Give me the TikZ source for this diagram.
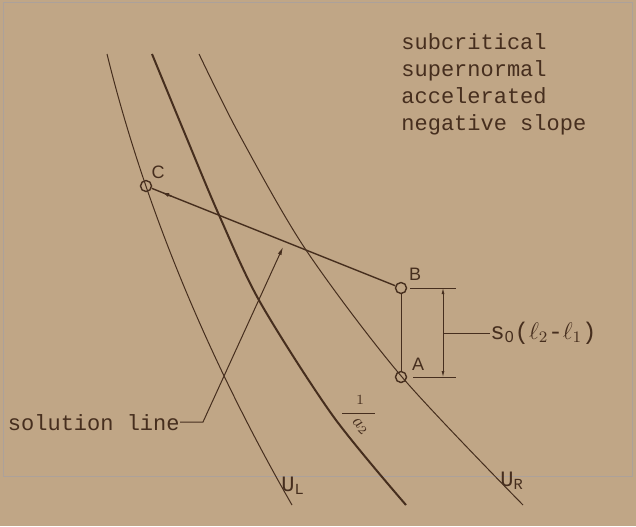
\documentclass[tikz,border=0pt]{standalone}
\usepackage{fontspec}
\setmonofont{Liberation Mono}
\setsansfont{Liberation Sans}
\usetikzlibrary{calc,arrows.meta}
\definecolor{paper}{RGB}{192,166,134}
\definecolor{ink}{RGB}{70,46,30}

\begin{document}
\begin{tikzpicture}[x=0.5pt,y=-0.5pt,ink,
  ring/.style={draw, circle, inner sep=0pt, minimum size=5.5pt, line width=0.7pt},
  lbl/.style={font=\sffamily\fontsize{9}{10}\selectfont, inner sep=0pt},
  tt/.style={font=\ttfamily\fontsize{11}{13.5}\selectfont, inner sep=0pt},
  curve/.style={line width=0.5pt},
  tip/.style={-{Latex[length=4pt,width=2pt]}}]
\fill[paper] (0,0) rectangle (636,526);
\useasboundingbox (0,0) rectangle (636,526);
\draw[ink!45, line width=0.4pt] (3,2) rectangle (632,476);

% the three curves
\draw[curve] (107,54) .. controls (144,204) and (206,355) .. (292,505);
\draw[line width=1pt] plot[smooth] coordinates {(152,54) (185,134) (219,215) (260,302) (333,416) (406,505)};
\draw[curve] plot[smooth] coordinates {(199,54) (239,134) (306,250) (402,377) (523,505)};

\node[ring] (C) at (146,186) {};
\node[ring] (B) at (401,288) {};
\node[ring] (A) at (401,377) {};

\node[lbl] at (158,172) {C};
\node[lbl] at (415,274) {B};
\node[lbl] at (418,364) {A};

\draw[line width=0.7pt] (B) -- (C);
\draw[line width=0.7pt, tip] ($(B)!0.9!(C)$) -- ($(B)!0.94!(C)$);
\draw[line width=0.5pt] (B) -- (A);

% s_0 dimension
\coordinate (bt) at (443,288);
\coordinate (at) at (443,377);
\coordinate (mid) at (443,333);
\draw[line width=0.4pt] (410,288) -- (456,288);
\draw[line width=0.4pt] (413,377) -- (456,377);
\draw[line width=0.4pt, {Latex[length=3pt,width=1.5pt]}-{Latex[length=3pt,width=1.5pt]}] (bt) -- (at);
\node[tt, anchor=west, font=\ttfamily\fontsize{12}{14}\selectfont] (dim) at (490,333)
  {s\textsubscript{\sffamily 0}($\ell_2$-$\ell_1$)};
\draw[line width=0.4pt] (mid) -- (dim.west);

\node[tt, anchor=north west, align=left] (kind) at (401,33)
  {subcritical\\supernormal\\accelerated\\negative slope};

% solution line
\node[tt, anchor=base east] (sol) at (180,430) {solution line};
\coordinate (bend) at (203,422);
\coordinate (aim) at (283,247);
\draw[line width=0.5pt, tip] (sol.east) -- (bend) -- (aim);

% 1/a_2
\node[font=\fontsize{7}{8}\selectfont, inner sep=0pt] (one) at (360,400) {1};
\draw[line width=0.5pt] (342,413) -- (375,413);
\node[rotate=-45, font=\fontsize{9}{10}\selectfont, inner sep=0pt] (atwo) at (360,427) {$a_2$};

\node[tt, anchor=west] (UL) at (281,486) {U\textsubscript{L}};
\node[tt, anchor=west] (UR) at (500,481) {U\textsubscript{R}};
\end{tikzpicture}
\end{document}
